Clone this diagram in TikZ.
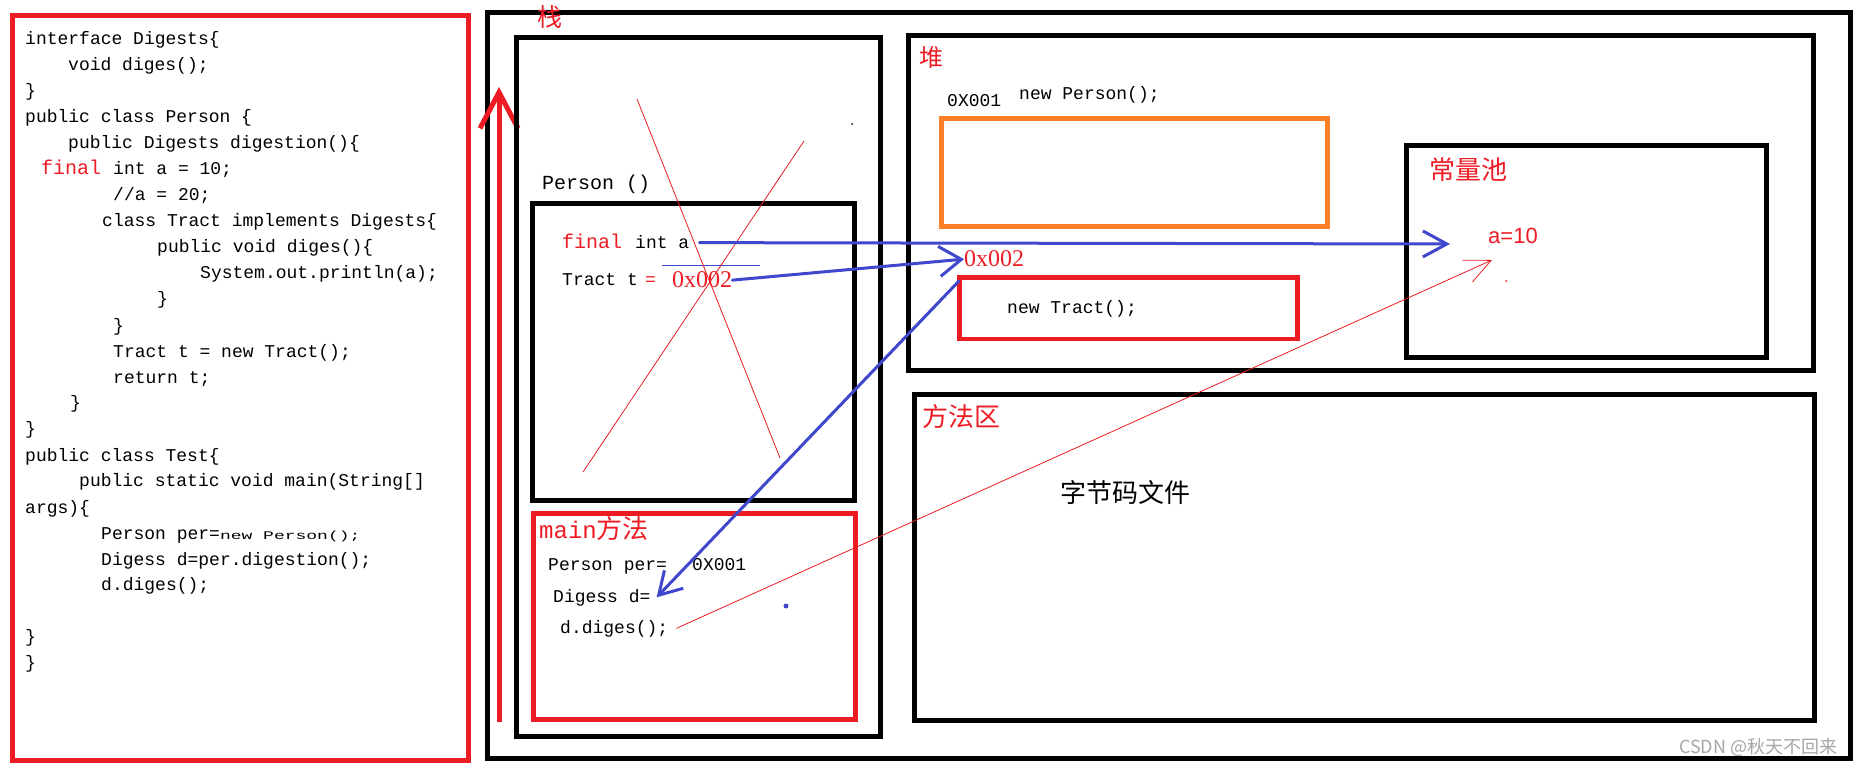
\documentclass[tikz,border=0pt]{standalone}
\usepackage{fontspec}
\setmainfont{Liberation Serif}
\newfontfamily\codefont{Liberation Mono}
\newfontfamily\cjk{Noto Sans CJK SC}
\newfontfamily\sansfont{Liberation Sans}
\usetikzlibrary{arrows.meta}
\newcommand{\csize}{\fontsize{18}{22}\selectfont}

\begin{document}
\begin{tikzpicture}[x=1pt, y=-1pt,
  code/.style={anchor=base west, inner sep=0pt, font=\codefont\csize},
  label/.style={anchor=west, inner sep=0pt, text=memred, font=\cjk\fontsize{#1}{#1}\selectfont},
  addr/.style={anchor=base west, inner sep=0pt, text=memred, font=\fontsize{24}{24}\selectfont},
  frame/.style={draw=black, line width=5pt},
  redframe/.style={draw=memred, line width=4.5pt},
  blueptr/.style={draw=memblue, line width=3pt, line cap=round, -{Straight Barb[length=#1]}}]
\definecolor{memred}{HTML}{ED1C24}
\definecolor{memblue}{HTML}{3F48CC}
\definecolor{memorange}{HTML}{FF7F27}
\fill[white] (0,0) rectangle (1874,767);
\useasboundingbox (0,0) rectangle (1874,767);
% source code
\draw[draw=memred, line width=5pt] (12.5,15.5) rectangle (468,760);
\node[code] (c1) at (25,45) {interface Digests\{};
\node[code] (c2) at (68,71) {void diges();};
\node[code] (c3) at (25,97) {\}};
\node[code] (c4) at (25,123) {public class Person \{};
\node[code] (c5) at (68,149) {public Digests digestion()\{};
\node[code, text=memred, font=\codefont\fontsize{20}{22}\selectfont] (c6a) at (41,175) {final};
\node[code] (c6) at (113,175) {int a = 10;};
\node[code] (c7) at (113,201) {//a = 20;};
\node[code] (c8) at (102,227) {class Tract implements Digests\{};
\node[code] (c9) at (157,253) {public void diges()\{};
\node[code] (c10) at (200,279) {System.out.println(a);};
\node[code] (c11) at (157,305) {\}};
\node[code] (c12) at (113,331) {\}};
\node[code] (c13) at (113,357) {Tract t = new Tract();};
\node[code] (c14) at (113,383) {return t;};
\node[code] (c15) at (70,408) {\}};
\node[code] (c16) at (25,434) {\}};
\node[code] (c17) at (25,461) {public class Test\{};
\node[code] (c18) at (79,486) {public static void main(String[]};
\node[code] (c19) at (25,513) {args)\{};
\node[code] (c20) at (101,539) {Person per=\scalebox{1}[0.65]{new Person();}};
\node[code] (c21) at (101,565) {Digess d=per.digestion();};
\node[code] (c22) at (101,590) {d.diges();};
\node[code] (c23) at (25,642) {\}};
\node[code] (c24) at (25,668) {\}};
% stack
\draw[frame] (487.5,12.5) rectangle (1850.5,758.5);
\node[label=25] (stacklbl) at (537,17) {栈};
\draw[draw=memred, line width=5pt, -{Straight Barb[length=36pt,width=38pt]}] (499,722) -- (499,87);
\draw[frame] (516.5,37.5) rectangle (880.5,736.5);
\node[code, font=\codefont\fontsize{20}{22}\selectfont] (persontitle) at (542,190) {Person ()};
\draw[frame] (532.5,203.5) rectangle (854.5,500.5);
\node[code, text=memred, font=\codefont\fontsize{20}{22}\selectfont] (finalkw) at (562,249) {final};
\node[code] (inta) at (635,249) {int a};
\draw[memblue, line width=1pt] (662,266) -- (760,266);
\node[code] (tractt) at (562,286) {Tract t};
\node[code, text=memred] (tracteq) at (645,286) {=};
\node[addr] (staddr) at (672,288) {0x002};
\draw[memred, line width=0.8pt] (637,99) -- (780,458);
\draw[memred, line width=0.8pt] (804,141) -- (583,472);
\fill (852,124) circle (1);
% main method frame
\draw[redframe] (533.5,513.5) rectangle (855.5,719.5);
\node[anchor=base west, inner sep=0pt, text=memred] (mainlbl) at (539,538)
  {{\codefont\fontsize{24}{24}\selectfont main}{\cjk\fontsize{26}{26}\selectfont 方法}};
\node[code] (perdecl) at (548,570) {Person per=};
\node[code] (peraddr) at (692,570) {0X001};
\node[code] (digess) at (553,602) {Digess d=};
\node[code] (dcall) at (560,633) {d.diges();};
\fill[memblue] (786,606) circle (2.5);
% heap
\draw[frame] (908.5,35.5) rectangle (1813.5,370.5);
\node[label=24] (heaplbl) at (919,57) {堆};
\node[code] (heapaddr) at (947,107) {0X001};
\node[code] (newperson) at (1019,100) {new Person();};
\draw[draw=memorange, line width=4.5pt] (941.5,118.5) rectangle (1327.5,226.5);
\node[addr] (htaddr) at (964,267) {0x002};
\draw[redframe] (959.5,277.5) rectangle (1297.5,339);
\coordinate (tractnw) at (959,281);
\node[code] (newtract) at (1007,314) {new Tract();};
% constant pool
\draw[frame] (1406.5,145.5) rectangle (1766.5,357.5);
\node[label=26] (poollbl) at (1429,170) {常量池};
\node[anchor=base west, inner sep=0pt, text=memred, font=\sansfont\fontsize{22}{22}\selectfont] (aval) at (1488,244) {a=10};
\coordinate (atip) at (1450,244);
\coordinate (ptip) at (1492,260);
\fill[memred] (1506,281) circle (1);
% method area
\draw[frame] (914.5,394.5) rectangle (1814.5,720.5);
\node[label=26] (methodlbl) at (922,417) {方法区};
\node[label=26, text=black] (bytecode) at (1060,493) {字节码文件};
\node[anchor=west, inner sep=0pt, text=black!35, font=\cjk\fontsize{18}{18}\selectfont] (mark) at (1679,747) {CSDN @秋天不回来};
% pointers
\draw[blueptr={24pt,width=26pt}, shorten <=10pt] (inta) -- (atip);
\draw[blueptr={22pt,width=30pt}] (staddr.east) -- (htaddr.west);
\draw[blueptr={22pt,width=26pt}] (tractnw) -- ([xshift=6pt]digess.east);
\draw[memred, line width=0.8pt, -{Straight Barb[length=26pt,width=24pt]}] ([xshift=8pt]dcall.east) -- (ptip);
\end{tikzpicture}
\end{document}
